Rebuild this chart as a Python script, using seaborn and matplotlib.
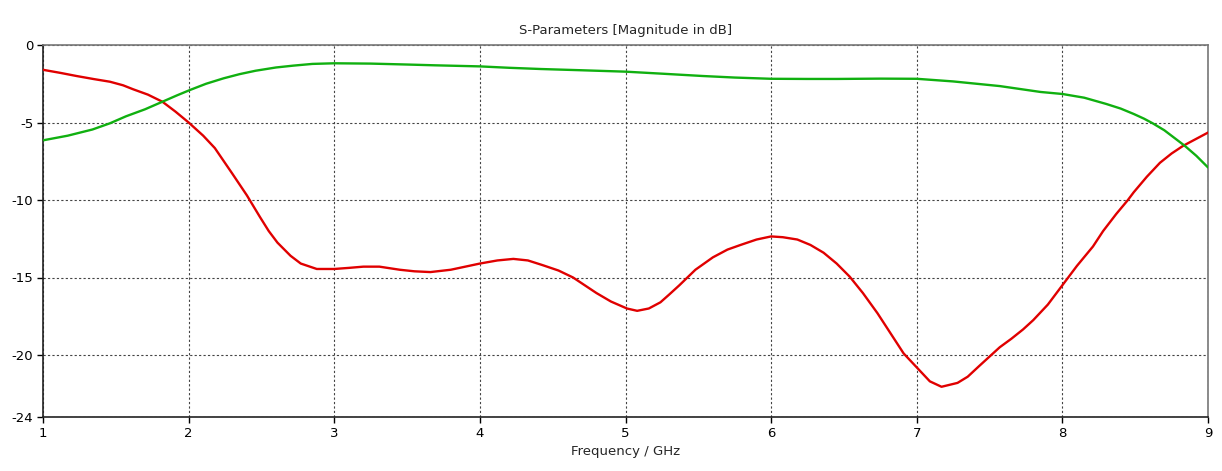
import numpy as np
import pandas as pd
import matplotlib
matplotlib.use("Agg")
import matplotlib.pyplot as plt
import seaborn as sns

# Valores (GHz, dB)
freq_s11 = [1.0, 1.12, 1.23, 1.35, 1.46, 1.55, 1.62, 1.72, 1.82, 1.91, 2.0, 2.1, 2.18, 2.3,
            2.4, 2.49, 2.55, 2.61, 2.7, 2.77, 2.88, 3.0, 3.1, 3.2, 3.31, 3.45, 3.55, 3.66,
            3.8, 3.9, 4.0, 4.12, 4.23, 4.33, 4.43, 4.54, 4.64, 4.72, 4.8, 4.9, 5.01, 5.08,
            5.16, 5.24, 5.3, 5.37, 5.48, 5.6, 5.7, 5.79, 5.9, 6.0, 6.08, 6.18, 6.27, 6.36,
            6.45, 6.54, 6.63, 6.73, 6.82, 6.91, 7.0, 7.09, 7.17, 7.28, 7.35, 7.43, 7.5,
            7.57, 7.65, 7.73, 7.8, 7.9, 8.0, 8.1, 8.21, 8.28, 8.37, 8.45, 8.49, 8.58, 8.67,
            8.75, 8.83, 8.92, 9.0]
s11_db = [-1.6, -1.8, -2.0, -2.2, -2.37, -2.6, -2.86, -3.2, -3.66, -4.3, -5.0, -5.85, -6.65,
          -8.3, -9.7, -11.1, -12.0, -12.75, -13.6, -14.1, -14.45, -14.45, -14.38, -14.3,
          -14.3, -14.5, -14.6, -14.65, -14.5, -14.3, -14.1, -13.9, -13.8, -13.9, -14.2,
          -14.55, -15.0, -15.5, -16.0, -16.55, -17.0, -17.15, -17.0, -16.6, -16.1, -15.5,
          -14.5, -13.7, -13.2, -12.9, -12.55, -12.35, -12.4, -12.55, -12.9, -13.4, -14.1,
          -14.95, -16.0, -17.3, -18.6, -19.9, -20.8, -21.7, -22.05, -21.8, -21.4, -20.7,
          -20.1, -19.5, -18.95, -18.35, -17.75, -16.75, -15.5, -14.25, -13.0, -12.0, -10.9,
          -10.0, -9.5, -8.5, -7.6, -7.0, -6.5, -6.05, -5.65]

freq_s21 = [1.0, 1.17, 1.34, 1.46, 1.57, 1.7, 1.82, 1.92, 2.01, 2.12, 2.24, 2.35, 2.46, 2.6,
            2.72, 2.85, 3.0, 3.25, 3.5, 3.69, 4.0, 4.2, 4.42, 4.7, 5.0, 5.25, 5.53, 5.75,
            6.0, 6.25, 6.45, 6.75, 7.0, 7.25, 7.57, 7.85, 8.0, 8.15, 8.3, 8.4, 8.49, 8.56,
            8.62, 8.7, 8.77, 8.84, 8.92, 9.0]
s21_db = [-6.15, -5.85, -5.45, -5.05, -4.6, -4.15, -3.66, -3.25, -2.9, -2.5, -2.15, -1.88,
          -1.66, -1.45, -1.33, -1.22, -1.18, -1.2, -1.26, -1.31, -1.38, -1.47, -1.55, -1.63,
          -1.72, -1.85, -2.0, -2.1, -2.18, -2.19, -2.19, -2.17, -2.18, -2.35, -2.65, -3.03,
          -3.16, -3.4, -3.8, -4.1, -4.45, -4.75, -5.05, -5.5, -6.0, -6.5, -7.15, -7.9]

df = pd.concat([
    pd.DataFrame({"freq": freq_s11, "db": s11_db, "serie": "S1,1"}),
    pd.DataFrame({"freq": freq_s21, "db": s21_db, "serie": "S2,1"}),
])

sns.set_theme(style="white")
plt.rcParams['font.family'] = ['DejaVu Sans']

fig = plt.figure(figsize=(12.22, 4.71), dpi=100)
ax = fig.add_axes([43 / 1222, 1 - 417 / 471, (1208 - 43) / 1222, (417 - 45) / 471])

sns.lineplot(data=df, x="freq", y="db", hue="serie", sort=False,
             palette={"S1,1": "#e00000", "S2,1": "#10b010"},
             linewidth=1.7, legend=False, ax=ax, zorder=3)

ax.set_xlim(1, 9)
ax.set_ylim(-24, 0)
ax.set_xticks(range(1, 10))
ax.set_yticks([0, -5, -10, -15, -20, -24])
ax.set_yticklabels(["0", "-5", "-10", "-15", "-20", "-24"])

ax.grid(True, linestyle=(0, (2, 2)), color="#444444", linewidth=0.8)
ax.tick_params(axis="both", which="both", direction="out", length=4, width=1,
               colors="black", labelsize=9.5, pad=3, left=True, bottom=True)

for lado in ["left", "bottom"]:
    ax.spines[lado].set_color("#222222")
    ax.spines[lado].set_linewidth(1.2)
for lado in ["top", "right"]:
    ax.spines[lado].set_color("#777777")
    ax.spines[lado].set_linewidth(1.2)

ax.set_title("S-Parameters [Magnitude in dB]", fontsize=9.5, pad=8)
ax.set_xlabel("Frequency / GHz", fontsize=9.5, labelpad=4)
ax.set_ylabel("")

fig.savefig("out.png", dpi=100)
